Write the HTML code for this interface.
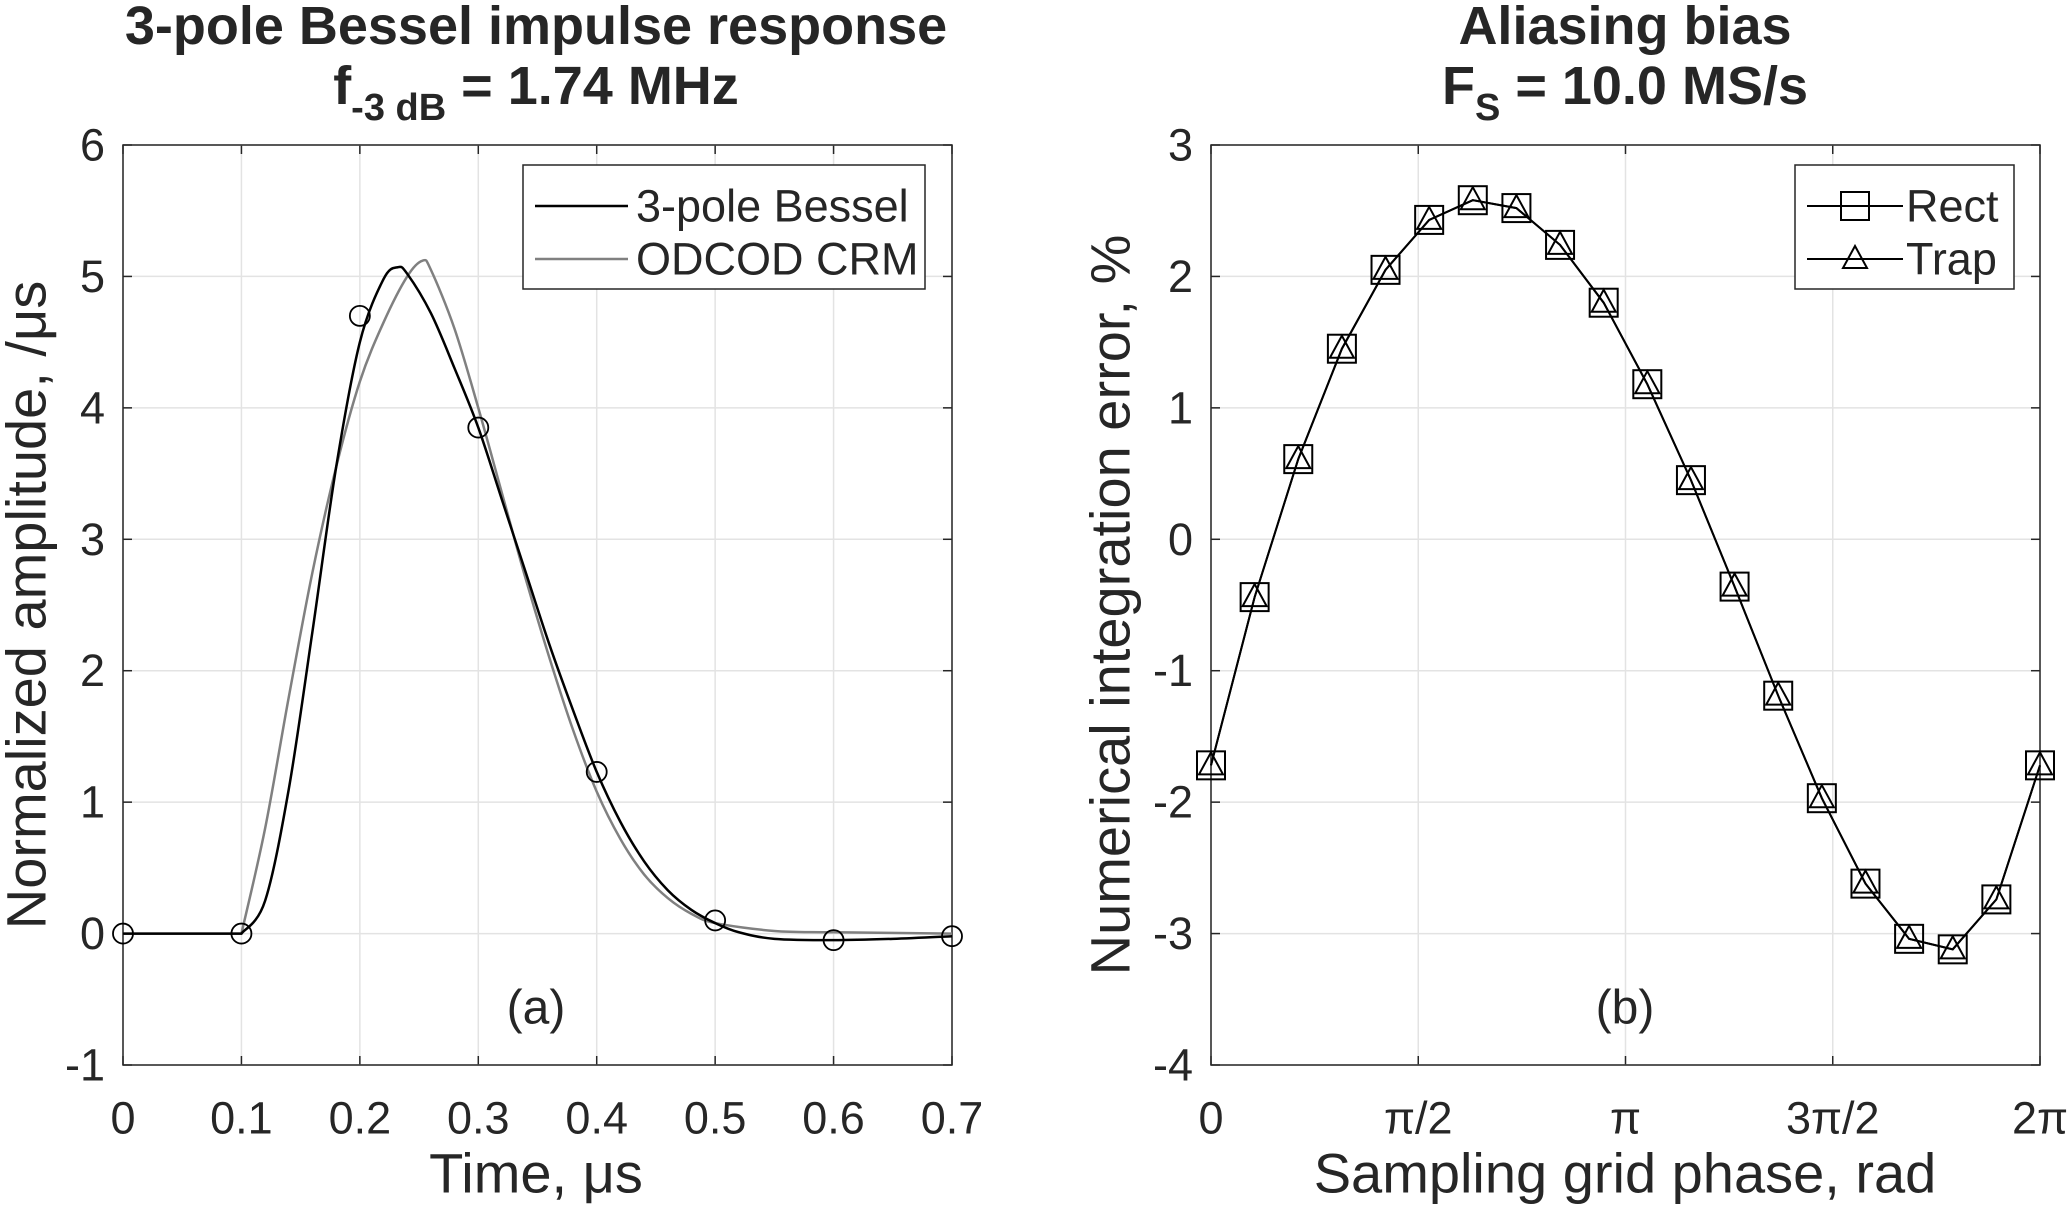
<!DOCTYPE html>
<html><head><meta charset="utf-8"><style>
body{margin:0;background:#fff}
text{font-family:"Liberation Sans",sans-serif;fill:#262626}
</style></head><body>
<svg id="svg" width="2067" height="1207" xmlns="http://www.w3.org/2000/svg"></svg>
<script>
// Panel (a) data
const besselT=[0.1,0.12,0.14,0.16,0.18,0.2,0.22,0.232,0.24,0.26,0.28,0.3,0.32,0.34,0.36,0.38,0.4,0.42,0.44,0.46,0.48,0.5,0.52,0.55,0.6,0.65,0.7];
const besselV=[0,0.25,1.1,2.3,3.55,4.5,4.98,5.07,5.02,4.72,4.3,3.85,3.3,2.75,2.2,1.7,1.23,0.85,0.55,0.33,0.18,0.08,0.01,-0.04,-0.05,-0.04,-0.02];
const crmT=[0.1,0.12,0.14,0.16,0.18,0.2,0.22,0.24,0.253,0.26,0.28,0.3,0.32,0.34,0.36,0.38,0.4,0.42,0.44,0.46,0.48,0.5,0.55,0.6,0.7];
const crmV=[0,0.8,1.8,2.75,3.55,4.2,4.65,5.0,5.12,5.05,4.6,4.0,3.35,2.7,2.1,1.55,1.08,0.72,0.45,0.27,0.15,0.08,0.02,0.01,0];
const sampleT=[0,0.1,0.2,0.3,0.4,0.5,0.6,0.7];
const sampleV=[0,0,4.7,3.85,1.23,0.1,-0.05,-0.02];
const xTicksA=[0,0.1,0.2,0.3,0.4,0.5,0.6,0.7];
const yTicksA=[-1,0,1,2,3,4,5,6];
// Panel (b) data
const rectV=[-1.72,-0.44,0.61,1.45,2.05,2.43,2.58,2.52,2.24,1.80,1.18,0.45,-0.36,-1.19,-1.97,-2.62,-3.04,-3.12,-2.74,-1.72];
const trapV=[-1.72,-0.44,0.61,1.45,2.05,2.43,2.58,2.52,2.24,1.80,1.18,0.45,-0.36,-1.19,-1.97,-2.62,-3.04,-3.12,-2.74,-1.72];
const xTicksB=[0,0.5,1,1.5,2];
const xTickLabelsB=["0","\u03c0/2","\u03c0","3\u03c0/2","2\u03c0"];
const yTicksB=[-4,-3,-2,-1,0,1,2,3];

const svg=document.getElementById('svg');const NS='http://www.w3.org/2000/svg';
function el(tag,attrs,parent){const e=document.createElementNS(NS,tag);for(const k in attrs)e.setAttribute(k,attrs[k]);(parent||svg).appendChild(e);return e;}
function txt(s,x,y,size,extra,parent){const t=el('text',Object.assign({x:x,y:y,'font-size':size,'text-anchor':'middle','dominant-baseline':'central'},extra||{}),parent);t.textContent=s;return t;}
function smooth(pts){let d='M'+pts[0][0]+','+pts[0][1];for(let i=0;i<pts.length-1;i++){const p0=pts[Math.max(i-1,0)],p1=pts[i],p2=pts[i+1],p3=pts[Math.min(i+2,pts.length-1)];const c1=[p1[0]+(p2[0]-p0[0])/6,p1[1]+(p2[1]-p0[1])/6],c2=[p2[0]-(p3[0]-p1[0])/6,p2[1]-(p3[1]-p1[1])/6];d+=' C'+c1+' '+c2+' '+p2;}return d;}
const TICK=45, LAB=56, TIT=54;

// Panel A
const A={x0:123,x1:952,y0:145,y1:1065};
const ax=v=>A.x0+v/0.7*(A.x1-A.x0), ay=v=>A.y1-(v+1)/7*(A.y1-A.y0);
const gA=el('g',{});
xTicksA.forEach(v=>{const g=el('line',{x1:ax(v),x2:ax(v),y1:A.y0,y2:A.y1,stroke:'#e3e3e3','stroke-width':1.5},gA);
 const t=txt(String(v),ax(v),1118,TICK,{},gA);
 el('line',{x1:ax(v),x2:ax(v),y1:A.y1,y2:A.y1-9,stroke:'#262626','stroke-width':1.5},gA);el('line',{x1:ax(v),x2:ax(v),y1:A.y0,y2:A.y0+9,stroke:'#262626','stroke-width':1.5},gA);});
yTicksA.forEach(v=>{const g=el('line',{x1:A.x0,x2:A.x1,y1:ay(v),y2:ay(v),stroke:'#e3e3e3','stroke-width':1.5},gA);
 const t=txt(String(v),A.x0-18,ay(v),TICK,{'text-anchor':'end'},gA);
 el('line',{x1:A.x0,x2:A.x0+9,y1:ay(v),y2:ay(v),stroke:'#262626','stroke-width':1.5},gA);el('line',{x1:A.x1,x2:A.x1-9,y1:ay(v),y2:ay(v),stroke:'#262626','stroke-width':1.5},gA);});
el('rect',{x:A.x0,y:A.y0,width:A.x1-A.x0,height:A.y1-A.y0,fill:'none',stroke:'#262626','stroke-width':1.5},gA);
const flat='M'+ax(0)+','+ay(0)+' L';
let p=el('path',{d:flat+smooth(crmT.map((t,i)=>[ax(t),ay(crmV[i])])).slice(1),fill:'none',stroke:'#808080','stroke-width':2.5},gA);
p=el('path',{d:flat+smooth(besselT.map((t,i)=>[ax(t),ay(besselV[i])])).slice(1),fill:'none',stroke:'#000','stroke-width':2.5},gA);
sampleT.forEach((t,i)=>{const c=el('circle',{cx:ax(t),cy:ay(sampleV[i]),r:10,fill:'none',stroke:'#000','stroke-width':1.8},gA);});
let lg=el('g',{},gA);
el('rect',{x:523,y:165,width:402,height:124,fill:'#fff',stroke:'#262626','stroke-width':1.5},lg);
el('line',{x1:535,x2:628,y1:206,y2:206,stroke:'#000','stroke-width':2.5},lg);
el('line',{x1:535,x2:628,y1:259,y2:259,stroke:'#808080','stroke-width':2.5},lg);
txt('3-pole Bessel',636,206,TICK,{'text-anchor':'start'},lg);
txt('ODCOD CRM',636,259,TICK,{'text-anchor':'start'},lg);
let t=txt('(a)',536,1008,48,{},gA);
t=txt('3-pole Bessel impulse response',536,26,TIT,{'font-weight':'bold'});
t=el('text',{x:536,y:104,'font-size':TIT,'font-weight':'bold','text-anchor':'middle'});
t.innerHTML='f<tspan font-size="38" dy="16">-3 dB</tspan><tspan dy="-16"> = 1.74 MHz</tspan>';
t=txt('Time, \u03bcs',536,1173,LAB,{});
t=txt('Normalized amplitude, /\u03bcs',26,605,LAB,{transform:'rotate(-90 26 605)'});

// Panel B
const B={x0:1211,x1:2040,y0:145,y1:1065};
const bx=v=>B.x0+v/2*(B.x1-B.x0), by=v=>B.y1-(v+4)/7*(B.y1-B.y0);
const gB=el('g',{});
xTicksB.forEach((v,i)=>{const g=el('line',{x1:bx(v),x2:bx(v),y1:B.y0,y2:B.y1,stroke:'#e3e3e3','stroke-width':1.5},gB);
 const t=txt(xTickLabelsB[i],bx(v),1118,TICK,{},gB);
 el('line',{x1:bx(v),x2:bx(v),y1:B.y1,y2:B.y1-9,stroke:'#262626','stroke-width':1.5},gB);el('line',{x1:bx(v),x2:bx(v),y1:B.y0,y2:B.y0+9,stroke:'#262626','stroke-width':1.5},gB);});
yTicksB.forEach(v=>{const g=el('line',{x1:B.x0,x2:B.x1,y1:by(v),y2:by(v),stroke:'#e3e3e3','stroke-width':1.5},gB);
 const t=txt(String(v),B.x0-18,by(v),TICK,{'text-anchor':'end'},gB);
 el('line',{x1:B.x0,x2:B.x0+9,y1:by(v),y2:by(v),stroke:'#262626','stroke-width':1.5},gB);el('line',{x1:B.x1,x2:B.x1-9,y1:by(v),y2:by(v),stroke:'#262626','stroke-width':1.5},gB);});
el('rect',{x:B.x0,y:B.y0,width:B.x1-B.x0,height:B.y1-B.y0,fill:'none',stroke:'#262626','stroke-width':1.5},gB);
const n=rectV.length;const px=i=>bx(2*i/(n-1));
p=el('polyline',{points:rectV.map((v,i)=>px(i)+','+by(v)).join(' '),fill:'none',stroke:'#000','stroke-width':2},gB);
p=el('polyline',{points:trapV.map((v,i)=>px(i)+','+by(v)).join(' '),fill:'none',stroke:'#000','stroke-width':2},gB);
function sq(x,y,par){return el('rect',{x:x-14,y:y-14,width:28,height:28,fill:'none',stroke:'#000','stroke-width':2},par);}
function tri(x,y,par){return el('polygon',{points:(x-12)+','+(y+9)+' '+(x+12)+','+(y+9)+' '+x+','+(y-13),fill:'none',stroke:'#000','stroke-width':2},par);}
rectV.forEach((v,i)=>{const m=sq(px(i),by(v),gB);});
trapV.forEach((v,i)=>{const m=tri(px(i),by(v),gB);});
lg=el('g',{},gB);
el('rect',{x:1795,y:165,width:219,height:124,fill:'#fff',stroke:'#262626','stroke-width':1.5},lg);
el('line',{x1:1807,x2:1903,y1:206,y2:206,stroke:'#000','stroke-width':2},lg);sq(1855,206,lg);
el('line',{x1:1807,x2:1903,y1:259,y2:259,stroke:'#000','stroke-width':2},lg);tri(1855,259,lg);
txt('Rect',1906,206,TICK,{'text-anchor':'start'},lg);
txt('Trap',1906,259,TICK,{'text-anchor':'start'},lg);
t=txt('(b)',1625,1008,48,{},gB);
t=txt('Aliasing bias',1625,26,TIT,{'font-weight':'bold'});
t=el('text',{x:1625,y:104,'font-size':TIT,'font-weight':'bold','text-anchor':'middle'});
t.innerHTML='F<tspan font-size="38" dy="16">S</tspan><tspan dy="-16"> = 10.0 MS/s</tspan>';
t=txt('Sampling grid phase, rad',1625,1173,LAB,{});
t=txt('Numerical integration error, %',1110,605,LAB,{transform:'rotate(-90 1110 605)'});
</script>
</body></html>
